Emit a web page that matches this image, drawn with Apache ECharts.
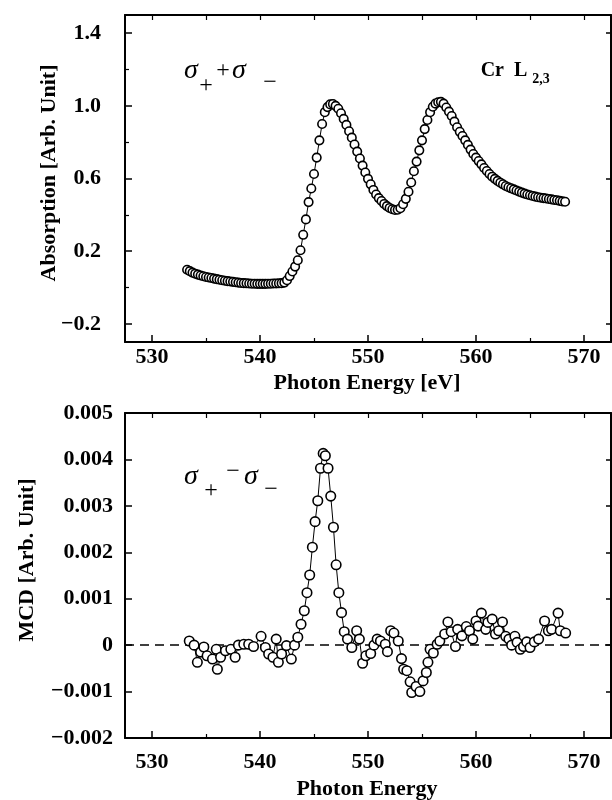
<!DOCTYPE html>
<html><head><meta charset="utf-8">
<script src="https://cdn.jsdelivr.net/npm/echarts@6/dist/echarts.min.js"></script>
<style>html,body{margin:0;padding:0;background:#fff}#c{width:612px;height:800px}</style>
</head><body><div id="c"></div>
<script>
// ---- data: top panel, absorption (sigma+ + sigma-) ----
const absEnergy = [533.25,533.5,533.75,534,534.25,534.5,534.75,535,535.25,535.5,535.75,536,536.25,536.5,536.75,537,537.25,537.5,537.75,538,538.25,538.5,538.75,539,539.25,539.5,539.75,540,540.25,540.5,540.75,541,541.25,541.5,541.75,542,542.25,542.5,542.75,543,543.25,543.5,543.75,544,544.25,544.5,544.75,545,545.25,545.5,545.75,546,546.25,546.5,546.75,547,547.25,547.5,547.75,548,548.25,548.5,548.75,549,549.25,549.5,549.75,550,550.25,550.5,550.75,551,551.25,551.5,551.75,552,552.25,552.5,552.75,553,553.25,553.5,553.75,554,554.25,554.5,554.75,555,555.25,555.5,555.75,556,556.25,556.5,556.75,557,557.25,557.5,557.75,558,558.25,558.5,558.75,559,559.25,559.5,559.75,560,560.25,560.5,560.75,561,561.25,561.5,561.75,562,562.25,562.5,562.75,563,563.25,563.5,563.75,564,564.25,564.5,564.75,565,565.25,565.5,565.75,566,566.25,566.5,566.75,567,567.25,567.5,567.75,568,568.25];
const absValue = [0.098,0.090,0.082,0.076,0.071,0.066,0.062,0.058,0.055,0.052,0.049,0.046,0.043,0.040,0.037,0.035,0.033,0.031,0.029,0.027,0.025,0.024,0.023,0.022,0.021,0.021,0.020,0.020,0.020,0.020,0.021,0.021,0.022,0.022,0.023,0.024,0.027,0.040,0.063,0.088,0.115,0.150,0.205,0.290,0.375,0.470,0.545,0.625,0.715,0.810,0.900,0.965,0.993,1.008,1.010,1.000,0.984,0.959,0.928,0.895,0.860,0.825,0.787,0.748,0.710,0.671,0.633,0.598,0.568,0.537,0.512,0.492,0.476,0.460,0.448,0.438,0.431,0.427,0.428,0.436,0.458,0.488,0.527,0.578,0.640,0.693,0.755,0.810,0.872,0.922,0.965,0.995,1.012,1.020,1.022,1.012,0.991,0.968,0.944,0.913,0.882,0.857,0.834,0.810,0.785,0.759,0.735,0.715,0.696,0.678,0.658,0.641,0.625,0.610,0.598,0.587,0.577,0.568,0.559,0.552,0.546,0.540,0.534,0.528,0.522,0.517,0.512,0.508,0.504,0.500,0.497,0.494,0.492,0.490,0.487,0.485,0.482,0.480,0.477,0.474,0.472];

// ---- data: bottom panel, MCD (sigma+ - sigma-) ----
const mcdEnergy = [533.45,533.9,534.2,534.5,534.8,535.1,535.6,535.95,536.05,536.35,536.8,537.3,537.7,538.0,538.5,538.95,539.4,540.1,540.5,540.8,541.2,541.5,541.7,542.0,542.45,542.9,543.2,543.5,543.8,544.1,544.35,544.6,544.85,545.1,545.35,545.6,545.85,546.05,546.3,546.55,546.8,547.05,547.3,547.55,547.8,548.1,548.5,548.95,549.2,549.5,549.8,550.25,550.55,550.85,551.15,551.6,551.8,552.1,552.4,552.8,553.1,553.3,553.6,553.9,554.05,554.45,554.8,555.1,555.4,555.55,555.75,556.05,556.4,556.65,557.1,557.4,557.7,558.1,558.3,558.7,559.1,559.4,559.7,560.0,560.2,560.5,560.9,561.1,561.5,561.8,562.1,562.45,562.75,563.05,563.3,563.6,563.8,564.1,564.4,564.7,565.0,565.4,565.8,566.35,566.7,567.0,567.6,567.8,568.3];
const mcdValue = [0.00009,0.0,-0.00037,-0.00015,-0.00004,-0.00023,-0.0003,-0.00009,-0.00052,-0.00026,-0.00012,-0.00009,-0.00026,0.0,0.00002,0.00002,-0.00003,0.00019,-0.00005,-0.00019,-0.00026,0.00013,-0.00037,-0.00019,-0.00001,-0.0003,0.0,0.00017,0.00045,0.00074,0.00113,0.00151,0.00211,0.00266,0.00311,0.00381,0.00413,0.00408,0.00381,0.00321,0.00254,0.00173,0.00113,0.0007,0.00029,0.00013,-0.00005,0.00031,0.00013,-0.00039,-0.00023,-0.00018,0.0,0.00013,0.00009,0.00002,-0.00014,0.00031,0.00026,0.00009,-0.00029,-0.00052,-0.00055,-0.00079,-0.00102,-0.00089,-0.001,-0.00077,-0.00059,-0.00037,-0.00009,-0.00017,0.00002,0.00009,0.00024,0.0005,0.00029,-0.00003,0.00034,0.0002,0.0004,0.00031,0.00013,0.00052,0.00041,0.00069,0.00034,0.00049,0.00056,0.00024,0.00031,0.0005,0.00019,0.00013,0.0,0.00019,0.00006,-0.00009,-0.00003,0.00007,-0.00005,0.00007,0.00013,0.00052,0.00031,0.00034,0.00069,0.00031,0.00026];

// ---- tick labels ----
const energyTicks = [530,540,550,560,570];
const energyMinorTicks = [535,545,555,565];
const energyAllTicks = [530,535,540,545,550,555,560,565,570];
const absTicks = [-0.2,0.2,0.6,1.0,1.4];
const absMinorTicks = [0,0.4,0.8,1.2];
const mcdTicks = [-0.002,-0.001,0,0.001,0.002,0.003,0.004,0.005];

const FONT = 'Liberation Serif';
const BLACK = '#000';
const labelStyle = {fontFamily: FONT, fontWeight: 'bold', fontSize: 22, color: BLACK};
const fmtAbs = v => (v < 0 ? '\u2212' : '') + Math.abs(v).toFixed(1);
const fmtMcd = v => Math.abs(v) < 1e-9 ? '0' : (v < 0 ? '\u2212' : '') + Math.abs(v).toFixed(3);
const fmtE = v => String(Math.round(v));

const grids = [
  {left: 125, top: 15, right: 1, height: 327},
  {left: 125, top: 413, right: 1, height: 325}
];
const EMIN = 527.5, EMAX = 572.5;

function xAxesFor(g, labelMargin) {
  return [
    {type:'value', gridIndex:g, position:'bottom', min:EMIN, max:EMAX,
     axisLine:{show:true, onZero:false, lineStyle:{color:BLACK, width:2}},
     axisTick:{show:true, inside:true, length:7, customValues:energyTicks, lineStyle:{color:BLACK, width:1.5}},
     axisLabel:Object.assign({show:true, customValues:energyTicks, formatter:fmtE, margin:labelMargin}, labelStyle),
     splitLine:{show:false}},
    {type:'value', gridIndex:g, position:'bottom', min:EMIN, max:EMAX,
     axisLine:{show:false, onZero:false},
     axisTick:{show:true, inside:true, length:4, customValues:energyMinorTicks, lineStyle:{color:BLACK, width:1.2}},
     axisLabel:{show:false}, splitLine:{show:false}},
    {type:'value', gridIndex:g, position:'top', min:EMIN, max:EMAX,
     axisLine:{show:true, onZero:false, lineStyle:{color:BLACK, width:2}},
     axisTick:{show:true, inside:true, length:5, customValues:energyAllTicks, lineStyle:{color:BLACK, width:1.2}},
     axisLabel:{show:false}, splitLine:{show:false}}
  ];
}

const option = {
  animation: false,
  backgroundColor: '#fff',
  grid: grids,
  xAxis: [].concat(xAxesFor(0, 4), xAxesFor(1, 13)),
  yAxis: [
    {type:'value', gridIndex:0, position:'left', min:-0.3, max:1.5,
     axisLine:{show:true, onZero:false, lineStyle:{color:BLACK, width:2}},
     axisTick:{show:true, inside:true, length:7, customValues:absTicks, lineStyle:{color:BLACK, width:1.5}},
     axisLabel:Object.assign({show:true, customValues:absTicks, formatter:fmtAbs, margin:24}, labelStyle),
     splitLine:{show:false}},
    {type:'value', gridIndex:0, position:'left', min:-0.3, max:1.5,
     axisLine:{show:false, onZero:false},
     axisTick:{show:true, inside:true, length:4, customValues:absMinorTicks, lineStyle:{color:BLACK, width:1.2}},
     axisLabel:{show:false}, splitLine:{show:false}},
    {type:'value', gridIndex:0, position:'right', min:-0.3, max:1.5,
     axisLine:{show:true, onZero:false, lineStyle:{color:BLACK, width:2}},
     axisTick:{show:true, inside:true, length:5, customValues:absTicks, lineStyle:{color:BLACK, width:1.5}},
     axisLabel:{show:false}, splitLine:{show:false}},
    {type:'value', gridIndex:1, position:'left', min:-0.002, max:0.005,
     axisLine:{show:true, onZero:false, lineStyle:{color:BLACK, width:2}},
     axisTick:{show:true, inside:true, length:7, customValues:mcdTicks, lineStyle:{color:BLACK, width:1.5}},
     axisLabel:Object.assign({show:true, customValues:mcdTicks, formatter:fmtMcd, margin:12}, labelStyle),
     splitLine:{show:false}},
    {type:'value', gridIndex:1, position:'right', min:-0.002, max:0.005,
     axisLine:{show:true, onZero:false, lineStyle:{color:BLACK, width:2}},
     axisTick:{show:true, inside:true, length:5, customValues:mcdTicks, lineStyle:{color:BLACK, width:1.5}},
     axisLabel:{show:false}, splitLine:{show:false}}
  ],
  series: [
    {type:'line', name:'abs', xAxisIndex:0, yAxisIndex:0,
     data: absEnergy.map((e, i) => [e, absValue[i]]),
     symbol:'circle', symbolSize:8.5, showAllSymbol:true,
     itemStyle:{color:'#fff', borderColor:BLACK, borderWidth:1.6},
     lineStyle:{color:BLACK, width:1}, z:3},
    {type:'line', name:'mcd', xAxisIndex:3, yAxisIndex:3,
     data: mcdEnergy.map((e, i) => [e, mcdValue[i]]),
     symbol:'circle', symbolSize:9.5, showAllSymbol:true,
     itemStyle:{color:'#fff', borderColor:BLACK, borderWidth:1.6},
     lineStyle:{color:BLACK, width:1}, z:3,
     markLine:{silent:true, symbol:'none', z:1, label:{show:false},
       lineStyle:{color:BLACK, width:1.6, type:[9,6]},
       data:[{yAxis:0}]}}
  ],
  graphic: [
    // axis titles
    {type:'text', x:367, y:383, style:{text:'Photon Energy [eV]', font:'bold 22px "Liberation Serif"', fill:BLACK, align:'center', verticalAlign:'middle'}},
    {type:'text', x:367, y:789, style:{text:'Photon Energy', font:'bold 22px "Liberation Serif"', fill:BLACK, align:'center', verticalAlign:'middle'}},
    {type:'text', x:49, y:173, rotation:Math.PI/2, style:{text:'Absorption [Arb. Unit]', font:'bold 22px "Liberation Serif"', fill:BLACK, align:'center', verticalAlign:'middle'}},
    {type:'text', x:27, y:560, rotation:Math.PI/2, style:{text:'MCD [Arb. Unit]', font:'bold 22px "Liberation Serif"', fill:BLACK, align:'center', verticalAlign:'middle'}},
    // sigma+ + sigma-
    {type:'text', x:191, y:71, style:{text:'\u03c3', font:'italic 28px "Liberation Serif"', fill:BLACK, align:'center', verticalAlign:'middle'}},
    {type:'text', x:206, y:86, style:{text:'+', font:'24px "Liberation Serif"', fill:BLACK, align:'center', verticalAlign:'middle'}},
    {type:'text', x:223, y:71, style:{text:'+', font:'24px "Liberation Serif"', fill:BLACK, align:'center', verticalAlign:'middle'}},
    {type:'text', x:239, y:71, style:{text:'\u03c3', font:'italic 28px "Liberation Serif"', fill:BLACK, align:'center', verticalAlign:'middle'}},
    {type:'text', x:270, y:83, style:{text:'\u2212', font:'24px "Liberation Serif"', fill:BLACK, align:'center', verticalAlign:'middle'}},
    {type:'text', x:504, y:71, style:{text:'Cr  L', font:'bold 20px "Liberation Serif"', fill:BLACK, align:'center', verticalAlign:'middle'}},
    {type:'text', x:541, y:79, style:{text:'2,3', font:'bold 14px "Liberation Serif"', fill:BLACK, align:'center', verticalAlign:'middle'}},
    // sigma+ - sigma-
    {type:'text', x:191, y:477, style:{text:'\u03c3', font:'italic 28px "Liberation Serif"', fill:BLACK, align:'center', verticalAlign:'middle'}},
    {type:'text', x:211, y:491, style:{text:'+', font:'24px "Liberation Serif"', fill:BLACK, align:'center', verticalAlign:'middle'}},
    {type:'text', x:233, y:472, style:{text:'\u2212', font:'24px "Liberation Serif"', fill:BLACK, align:'center', verticalAlign:'middle'}},
    {type:'text', x:251, y:477, style:{text:'\u03c3', font:'italic 28px "Liberation Serif"', fill:BLACK, align:'center', verticalAlign:'middle'}},
    {type:'text', x:271, y:490, style:{text:'\u2212', font:'24px "Liberation Serif"', fill:BLACK, align:'center', verticalAlign:'middle'}}
  ]
};
const chart = echarts.init(document.getElementById('c'), null, {renderer:'canvas'});
chart.setOption(option);
</script></body></html>
